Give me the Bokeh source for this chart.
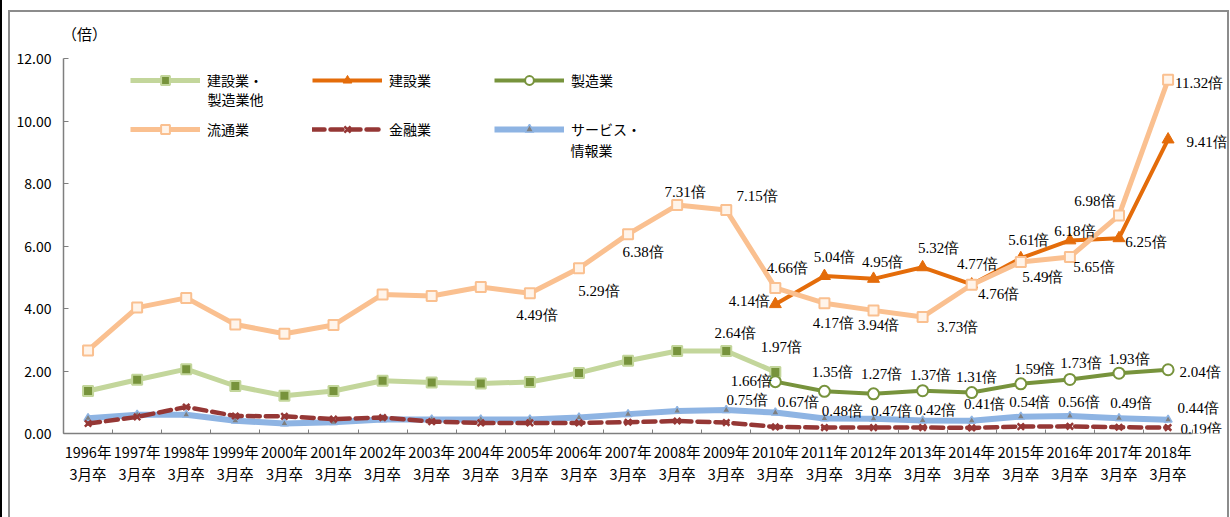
from bokeh.plotting import figure
from bokeh.models import (ColumnDataSource, Range1d, FixedTicker, NumeralTickFormatter,
                          LabelSet, Label, Legend, LegendItem)
from bokeh.embed import file_html
from bokeh.resources import INLINE

FONT = "Noto Sans CJK JP"

years = list(range(1996, 2019))
tick_labels = [f"{y}年\n3月卒" for y in years]

# 建設業・製造業他 (1996-2010)
kensetsu_seizo = [1.36, 1.72, 2.06, 1.52, 1.21, 1.36, 1.69, 1.63, 1.60, 1.65,
                  1.94, 2.33, 2.64, 2.64, 1.97]
# 流通業 (1996-2018)
ryutsu = [2.66, 4.03, 4.34, 3.49, 3.19, 3.47, 4.45, 4.40, 4.69, 4.49, 5.29, 6.38,
          7.31, 7.15, 4.66, 4.17, 3.94, 3.73, 4.76, 5.49, 5.65, 6.98, 11.32]
# 建設業 (2010-2018)
kensetsu = [4.14, 5.04, 4.95, 5.32, 4.77, 5.61, 6.18, 6.25, 9.41]
# 製造業 (2010-2018)
seizo = [1.66, 1.35, 1.27, 1.37, 1.31, 1.59, 1.73, 1.93, 2.04]
# 金融業 (1996-2018)
kinyu = [0.32, 0.53, 0.85, 0.56, 0.55, 0.46, 0.51, 0.38, 0.34, 0.34, 0.34, 0.36,
         0.40, 0.35, 0.21, 0.19, 0.19, 0.19, 0.18, 0.22, 0.23, 0.20, 0.19]
# サービス・情報業 (1996-2018)
service = [0.49, 0.60, 0.60, 0.41, 0.32, 0.36, 0.45, 0.45, 0.45, 0.45, 0.51, 0.62,
           0.72, 0.75, 0.67, 0.48, 0.47, 0.42, 0.41, 0.54, 0.56, 0.49, 0.44]

x_all = list(range(len(years)))
x_early = x_all[:15]
x_late = x_all[14:]

C_LGREEN = "#C3D69B"
C_DGREEN = "#77933C"
C_LORANGE = "#FAC090"
C_ORANGE = "#E46C0A"
C_RED = "#953735"
C_BLUE = "#8EB4E3"
C_GREY = "#7F7F7F"
C_FRAME = "#8C8C8C"

p = figure(width=1230, height=517, output_backend="svg", toolbar_location=None,
           x_range=Range1d(-0.5, 23.19), y_range=Range1d(0, 13.09),
           min_border_left=63, min_border_top=24, min_border_right=4, min_border_bottom=84)
p.outline_line_color = None
p.xgrid.visible = False
p.ygrid.visible = False
p.background_fill_alpha = 0
p.border_fill_alpha = 0
p.styles = {"background": (
    f"linear-gradient(#000,#000) 0px 0px / 2px 100% no-repeat, "
    f"linear-gradient({C_FRAME},{C_FRAME}) 8px 10px / 1220px 2px no-repeat, "
    f"linear-gradient({C_FRAME},{C_FRAME}) 8px 10px / 2px 507px no-repeat, "
    f"linear-gradient({C_FRAME},{C_FRAME}) 1227px 10px / 2px 507px no-repeat, #ffffff")}

# axes
xa = p.xaxis[0]
xa.bounds = (-0.5, 22.5)
xa.ticker = FixedTicker(ticks=x_all, minor_ticks=[i - 0.5 for i in range(len(years) + 1)])
xa.major_label_overrides = {i: t for i, t in enumerate(tick_labels)}
xa.major_tick_line_color = None
xa.minor_tick_in = 4
xa.minor_tick_out = 0
xa.minor_tick_line_color = C_GREY
xa.axis_line_color = C_GREY
xa.axis_line_width = 1.5
xa.major_label_text_font = FONT
xa.major_label_text_font_size = "14.5px"
xa.major_label_text_color = "black"
xa.major_label_text_line_height = 1.05
xa.major_label_standoff = 1

ya = p.yaxis[0]
ya.bounds = (0, 12)
ya.ticker = FixedTicker(ticks=[0, 2, 4, 6, 8, 10, 12], minor_ticks=[])
ya.formatter = NumeralTickFormatter(format="0.00")
ya.major_tick_in = 5
ya.major_tick_out = 0
ya.major_tick_line_color = C_GREY
ya.axis_line_color = C_GREY
ya.axis_line_width = 1.5
ya.major_label_text_font = FONT
ya.major_label_text_font_size = "14px"
ya.major_label_text_color = "black"
ya.major_label_standoff = 12

# series
r1l = p.line(x_early, kensetsu_seizo, line_color=C_LGREEN, line_width=5, line_join="round")
r1m = p.scatter(x_early, kensetsu_seizo, marker="square", size=10, fill_color=C_DGREEN,
                line_color=C_LGREEN, line_width=2)

r2l = p.line(x_late, kensetsu, line_color=C_ORANGE, line_width=4, line_join="round")
r2m = p.scatter(x_late, kensetsu, marker="triangle", size=12, fill_color=C_ORANGE,
                line_color=C_ORANGE, line_width=1)

r3l = p.line(x_late, seizo, line_color=C_DGREEN, line_width=4, line_join="round")
r3m = p.scatter(x_late, seizo, marker="circle", size=11, fill_color="white",
                line_color=C_DGREEN, line_width=2)

r6l = p.line(x_all, service, line_color=C_BLUE, line_width=6, line_join="round")
r6m = p.scatter(x_all, service, marker="triangle", size=8, fill_color=C_GREY,
                line_color=C_BLUE, line_width=1.5)

r5l = p.line(x_all, kinyu, line_color=C_RED, line_width=4.5, line_dash="12 6", line_cap="round")
r5m = p.scatter(x_all, kinyu, marker="x", size=9, line_color=C_RED, line_width=2.5)

r4l = p.line(x_all, ryutsu, line_color=C_LORANGE, line_width=5, line_join="round")
r4m = p.scatter(x_all, ryutsu, marker="square", size=10, fill_color="#FFF4EA",
                line_color=C_LORANGE, line_width=2)

# data labels
def add_labels(xs, vals, offsets):
    src = ColumnDataSource(dict(
        x=[xs[i] for i in offsets],
        y=[vals[i] for i in offsets],
        text=[f"{vals[i]:.2f}倍" for i in offsets],
        xo=[offsets[i][0] for i in offsets],
        yo=[offsets[i][1] for i in offsets],
    ))
    ls = LabelSet(x="x", y="y", text="text", x_offset="xo", y_offset="yo", source=src,
                  text_font=FONT, text_font_size="15px", text_color="black",
                  text_align="center", text_baseline="middle")
    p.add_layout(ls)

# offsets keyed by index in the series (pixels: dx right, dy up)
add_labels(x_all, ryutsu, {9: (7, -22), 10: (20, -23), 11: (15, -18), 12: (8, 13),
                           13: (31, 14), 14: (12, 20), 15: (9, -20), 16: (5, -15),
                           17: (35, -10), 18: (27, -9), 19: (22, -15), 20: (24, -10),
                           21: (-24, 14), 22: (31, -3)})
add_labels(x_late, kensetsu, {0: (-26, 3), 1: (10, 19), 2: (9, 17), 3: (16, 19),
                              4: (6, 20), 5: (8, 18), 6: (5, 9), 7: (27, -4), 8: (39, -3)})
add_labels(x_early, kensetsu_seizo, {13: (9, 18), 14: (6, 25)})
add_labels(x_late, seizo, {0: (-24, 1), 1: (8, 19), 2: (8, 20), 3: (8, 16), 4: (5, 16),
                           5: (14, 15), 6: (11, 16), 7: (10, 14), 8: (32, -2)})
add_labels(x_all, service, {13: (21, 10), 14: (23, 11), 15: (18, 8), 16: (18, 8),
                            17: (13, 10), 18: (13, 17), 19: (9, 15), 20: (9, 14),
                            21: (12, 15), 22: (30, 12)})
add_labels(x_all, kinyu, {22: (33, -1)})

# legend
legend = Legend(items=[
    LegendItem(label="建設業・", renderers=[r1l, r1m]),
    LegendItem(label="建設業", renderers=[r2l, r2m]),
    LegendItem(label="製造業", renderers=[r3l, r3m]),
    LegendItem(label="流通業", renderers=[r4l, r4m]),
    LegendItem(label="金融業", renderers=[r5l, r5m]),
    LegendItem(label="サービス・", renderers=[r6l, r6m]),
], location=(67, 293), orientation="horizontal", ncols=3,
    glyph_width=70, glyph_height=22, label_height=22, label_width=78,
    label_standoff=7, spacing=27, padding=0, margin=0,
    border_line_color=None, background_fill_alpha=0,
    label_text_font=FONT, label_text_font_size="14px", label_text_color="black")
p.add_layout(legend)

for txt, lx, ly in [("製造業他", 144, 335), ("情報業", 507, 284)]:
    p.add_layout(Label(x=lx, y=ly, x_units="screen", y_units="screen", text=txt,
                       text_font=FONT, text_font_size="14px", text_color="black",
                       text_align="left", text_baseline="middle"))

p.add_layout(Label(x=21, y=400, x_units="screen", y_units="screen", text="（倍）",
                   text_font=FONT, text_font_size="15px", text_color="black",
                   text_align="center", text_baseline="middle"))

open("out.html", "w").write(file_html(p, INLINE))
